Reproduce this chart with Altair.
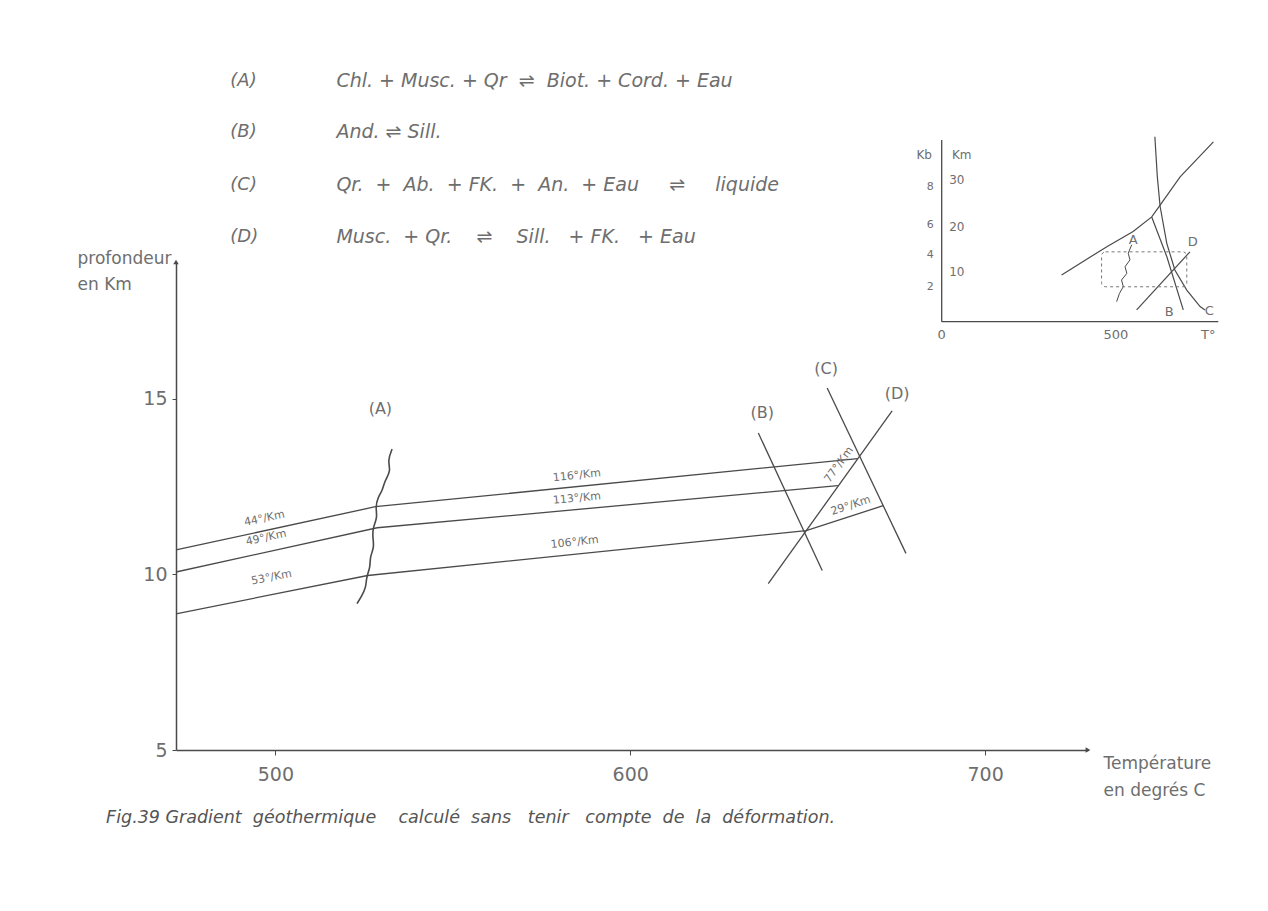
import altair as alt
import pandas as pd

FONT = "DejaVu Sans"
INK = "#4a4a4a"
TXT = "#6e6e6e"
S = "\u00a0"  # non-breaking space, keeps wide gaps

# ---------------- main diagram data (T in °C, d = depth in km) ----------------
top_T = [472, 528.2, 664.1]
top_d = [10.7, 11.93, 13.3]
mid_T = [472, 528.7, 658.5]
mid_d = [10.07, 11.33, 12.53]
bot_T = [472, 526.0, 649.6, 671.3]
bot_d = [8.88, 9.97, 11.25, 11.96]
B_T = [636.1, 654.1]
B_d = [14.03, 10.11]
C_T = [655.5, 677.7]
C_d = [15.31, 10.6]
D_T = [638.9, 673.8]
D_d = [9.74, 14.66]
A_T = [532.9, 531.6, 532.6, 530.8, 530.2, 528.9, 528.2, 528.8, 527.5, 527.4,
       527.9, 526.6, 526.8, 525.6, 525.6, 524.2, 523.0]
A_d = [13.57, 13.24, 12.95, 12.67, 12.39, 12.20, 11.91, 11.63, 11.34, 11.06,
       10.78, 10.49, 10.21, 9.92, 9.64, 9.36, 9.17]

# gradient labels
g_text = ["44°/Km", "49°/Km", "53°/Km", "116°/Km", "113°/Km", "106°/Km", "77°/Km", "29°/Km"]
g_T = [497.2, 497.7, 499.2, 585.1, 585.1, 584.5, 660.0, 662.6]
g_d = [11.45, 10.9, 9.77, 12.67, 12.02, 10.77, 13.04, 11.82]
g_ang = [348, 347.5, 349, 354, 354.5, 354, 306, 342]

# reaction curve names
r_text = ["(A)", "(B)", "(C)", "(D)"]
r_T = [529.6, 637.2, 655.2, 675.2]
r_d = [14.72, 14.6, 15.85, 15.14]

# reactions list
eq_keys = ["(A)", "(B)", "(C)", "(D)"]
eq_text = [
    f"Chl.{S}+{S}Musc.{S}+{S}Qr{S}{S}⇌{S}{S}Biot.{S}+{S}Cord.{S}+{S}Eau",
    f"And.{S}⇌{S}Sill.",
    f"Qr.{S}{S}+{S}{S}Ab.{S}{S}+{S}FK.{S}{S}+{S}{S}An.{S}{S}+{S}Eau{S}{S}{S}{S}{S}⇌{S}{S}{S}{S}{S}liquide",
    f"Musc.{S}{S}+{S}Qr.{S}{S}{S}{S}⇌{S}{S}{S}{S}Sill.{S}{S}{S}+{S}FK.{S}{S}{S}+{S}Eau",
]
eq_d = [24.05, 22.6, 21.1, 19.62]
eq_key_T = 487.3
eq_text_T = 517.2

caption = (f"Fig.39{S}Gradient{S}{S}géothermique{S}{S}{S}{S}calculé{S}{S}sans{S}{S}{S}tenir"
           f"{S}{S}{S}compte{S}{S}de{S}{S}la{S}{S}déformation.")
cap_T = 452.3
cap_d = 3.05

# ---------------- inset data (T in °C, k = depth in km) ----------------
in_curve_T = [342, 471, 546, 599, 623, 680, 775]
in_curve_k = [9.9, 15.9, 19.1, 22.2, 24.7, 30.7, 38.1]
in_B_T = [599, 642, 689]
in_B_k = [22.2, 13.8, 2.5]
in_C_T = [608, 615, 623, 642, 665, 699, 737, 751]
in_C_k = [39.2, 30.7, 24.4, 16.6, 10.95, 6.7, 3.2, 2.5]
in_D_T = [556, 708]
in_D_k = [2.5, 14.8]
in_A_T = [542, 532, 537, 523, 528, 513, 518, 507, 499]
in_A_k = [16.3, 14.5, 13.1, 11.65, 10.25, 8.83, 7.42, 6.0, 4.24]
box_T = [456, 699]
box_k = [7.4, 14.8]
in_lab_text = ["A", "D", "B", "C"]
in_lab_T = [546, 716, 649, 763]
in_lab_k = [17.4, 16.95, 2.1, 2.3]
in_xt_text = ["0", "500", "T°"]
in_xt_T = [0, 497, 760]
kb_text = ["8", "6", "4", "2"]
kb_k = [28.6, 20.5, 14.1, 7.4]
km_text = ["30", "20", "10"]
km_k = [30.0, 20.1, 10.6]
in_axis_T = [0, 789]
in_axis_k = [0, 38.5]

# ---------------- build tables ----------------
def series(name, T, d):
    return pd.DataFrame({"s": name, "T": T, "d": d, "o": range(len(T))})

main_lines = pd.concat([
    series("top", top_T, top_d), series("mid", mid_T, mid_d),
    series("bot", bot_T, bot_d), series("B", B_T, B_d),
    series("C", C_T, C_d), series("D", D_T, D_d)])
wavy = series("A", A_T, A_d)
glabs = pd.DataFrame({"t": g_text, "T": g_T, "d": g_d, "a": g_ang})
rlabs = pd.DataFrame({"t": r_text, "T": r_T, "d": r_d})
eqk = pd.DataFrame({"t": eq_keys, "T": eq_key_T, "d": eq_d})
eqt = pd.DataFrame({"t": eq_text, "T": eq_text_T, "d": eq_d})
cap = pd.DataFrame({"t": [caption], "T": [cap_T], "d": [cap_d]})

XMIN, XMAX, YMIN, YMAX = 472, 729, 5, 18.9
arrows = pd.DataFrame({"T": [XMIN, XMAX], "d": [YMAX, YMIN], "sh": ["triangle-up", "triangle-right"]})

W, H = 912, 488
PL, PT = 168, 254

xs = alt.Scale(domain=[XMIN, XMAX], nice=False, zero=False)
ys = alt.Scale(domain=[YMIN, YMAX], nice=False, zero=False)

xax = alt.Axis(values=[500, 600, 700], title=["Température", "en degrés C"],
               titleAngle=0, titleAlign="left", titleBaseline="alphabetic",
               titleX=927, titleY=18, titleLineHeight=27, titleFontSize=17,
               titleFontWeight="normal", titleColor=TXT, titleFont=FONT,
               tickSize=5, labelPadding=10, labelFontSize=19, labelColor=TXT,
               labelFont=FONT, domainColor=INK, domainWidth=1.5, tickColor=INK,
               grid=False, labelFlush=False)
yax = alt.Axis(values=[5, 10, 15], title=["profondeur", "en Km"],
               titleAngle=0, titleAlign="left", titleBaseline="alphabetic",
               titleX=-99, titleY=1, titleLineHeight=26, titleFontSize=17,
               titleFontWeight="normal", titleColor=TXT, titleFont=FONT,
               tickSize=4, labelPadding=5, labelFontSize=19, labelColor=TXT,
               labelFont=FONT, domainColor=INK, domainWidth=1.5, tickColor=INK,
               grid=False, labelFlush=False)

X = alt.X("T:Q", scale=xs, axis=xax)
Y = alt.Y("d:Q", scale=ys, axis=yax)

l_lines = alt.Chart(main_lines).mark_line(color=INK, strokeWidth=1.3).encode(
    x=X, y=Y, detail="s:N", order="o:Q")
l_wavy = alt.Chart(wavy).mark_line(color=INK, strokeWidth=1.6, interpolate="basis").encode(
    x=X, y=Y, order="o:Q")
l_arrows = alt.Chart(arrows).mark_point(filled=True, color=INK, size=30, opacity=1).encode(
    x=X, y=Y, shape=alt.Shape("sh:N", scale=None))
l_glabs = alt.Chart(glabs).mark_text(font=FONT, fontSize=11, color=TXT, baseline="bottom").encode(
    x=X, y=Y, text="t:N", angle=alt.Angle("a:Q", scale=None))
l_rlabs = alt.Chart(rlabs).mark_text(font=FONT, fontSize=16, color=TXT).encode(
    x=X, y=Y, text="t:N")
l_eqk = alt.Chart(eqk).mark_text(font=FONT, fontSize=18, fontStyle="italic", color=TXT,
                                 align="left").encode(x=X, y=Y, text="t:N")
l_eqt = alt.Chart(eqt).mark_text(font=FONT, fontSize=19, fontStyle="italic", color=TXT,
                                 align="left").encode(x=X, y=Y, text="t:N")
l_cap = alt.Chart(cap).mark_text(font=FONT, fontSize=17.5, fontStyle="italic", color="#555",
                                 align="left").encode(x=X, y=Y, text="t:N")

main = alt.layer(l_lines, l_wavy, l_arrows, l_glabs, l_rlabs, l_eqk, l_eqt, l_cap)

# ---------------- inset ----------------
IX0 = 941.7 - 176
IXS = 0.3506
IY0 = 321.7 - 262
IYS = 4.72
ixs = alt.Scale(domain=[0, 800], range=[IX0, IX0 + 800 * IXS], nice=False, zero=False)
iys = alt.Scale(domain=[0, 40], range=[IY0, IY0 - 40 * IYS], nice=False, zero=False)
IX = alt.X("T:Q", scale=ixs, axis=None)
IY = alt.Y("k:Q", scale=iys, axis=None)

def iseries(name, T, k):
    return pd.DataFrame({"s": name, "T": T, "k": k, "o": range(len(T))})

in_lines = pd.concat([iseries("curve", in_curve_T, in_curve_k),
                      iseries("B", in_B_T, in_B_k),
                      iseries("C", in_C_T, in_C_k),
                      iseries("D", in_D_T, in_D_k)])
in_axes = pd.concat([iseries("x", in_axis_T, [0, 0]),
                     iseries("y", [0, 0], in_axis_k)])
in_wavy = iseries("A", in_A_T, in_A_k)
in_box = pd.DataFrame({"T": [box_T[0]], "T2": [box_T[1]], "k": [box_k[0]], "k2": [box_k[1]]})
in_labs = pd.DataFrame({"t": in_lab_text, "T": in_lab_T, "k": in_lab_k})
in_xt = pd.DataFrame({"t": in_xt_text, "T": in_xt_T, "k": -2.8})
in_kb = pd.DataFrame({"t": kb_text, "T": -33, "k": kb_k})
in_km = pd.DataFrame({"t": km_text, "T": 43, "k": km_k})
in_units = pd.DataFrame({"t": ["Kb", "Km"], "T": [-50, 57], "k": [35.3, 35.3]})

i_axes = alt.Chart(in_axes).mark_line(color=INK, strokeWidth=1.3).encode(
    x=IX, y=IY, detail="s:N", order="o:Q")
i_lines = alt.Chart(in_lines).mark_line(color=INK, strokeWidth=1.2).encode(
    x=IX, y=IY, detail="s:N", order="o:Q")
i_wavy = alt.Chart(in_wavy).mark_line(color=INK, strokeWidth=1.0).encode(
    x=IX, y=IY, order="o:Q")
i_box = alt.Chart(in_box).mark_rect(fill=None, stroke="#777", strokeWidth=1,
                                    strokeDash=[3, 3], cornerRadius=4).encode(
    x=IX, x2="T2:Q", y=IY, y2="k2:Q")
i_labs = alt.Chart(in_labs).mark_text(font=FONT, fontSize=13, color=TXT).encode(
    x=IX, y=IY, text="t:N")
i_xt = alt.Chart(in_xt).mark_text(font=FONT, fontSize=13, color=TXT).encode(
    x=IX, y=IY, text="t:N")
i_kb = alt.Chart(in_kb).mark_text(font=FONT, fontSize=11, color=TXT).encode(
    x=IX, y=IY, text="t:N")
i_km = alt.Chart(in_km).mark_text(font=FONT, fontSize=12, color=TXT).encode(
    x=IX, y=IY, text="t:N")
i_units = alt.Chart(in_units).mark_text(font=FONT, fontSize=12, color=TXT).encode(
    x=IX, y=IY, text="t:N")

inset = alt.layer(i_axes, i_lines, i_wavy, i_box, i_labs, i_xt, i_kb, i_km, i_units)

chart = alt.layer(main, inset).resolve_scale(x="independent", y="independent").properties(
    width=W, height=H,
    padding={"left": PL, "top": PT, "right": 170, "bottom": 151},
    autosize=alt.AutoSizeParams(type="none"),
    background="white",
).configure_view(stroke=None)

chart.save("out.html", embed_options={"renderer": "svg", "actions": False})
